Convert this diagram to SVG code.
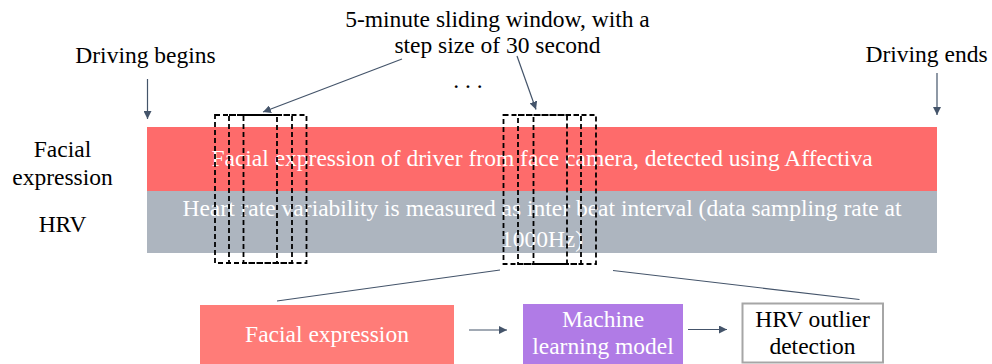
<svg xmlns="http://www.w3.org/2000/svg" width="992" height="364" viewBox="0 0 992 364">
  <defs>
    <marker id="arrow" viewBox="0 0 10 10" refX="10" refY="5" markerWidth="8" markerHeight="8" markerUnits="userSpaceOnUse" orient="auto">
      <path d="M0,0 L10,5 L0,10 Z" fill="#44546a"/>
    </marker>
  </defs>
  <style>
    .t { font-family: "Liberation Serif", "Times New Roman", serif; font-size: 23.5px; }
    .dark { fill: #000000; }
    .light { fill: #ffffff; }
    .mid { text-anchor: middle; }
    .conn { stroke: #44546a; stroke-width: 1.2; fill: none; }
    .win { fill: none; stroke: #000000; stroke-width: 1.8; stroke-dasharray: 5 3; }
  </style>

  <rect width="992" height="364" fill="#ffffff"/>

  <!-- Labels above the timeline -->
  <g id="label-begin">
    <text class="t dark mid" x="145.5" y="63">Driving begins</text>
  </g>
  <g id="label-end">
    <text class="t dark mid" x="926.5" y="62">Driving ends</text>
  </g>
  <g id="label-window">
    <text class="t dark mid" x="497.5" y="27">5-minute sliding window, with a</text>
    <text class="t dark mid" x="497.5" y="53">step size of 30 second</text>
  </g>
  <g id="label-ellipsis">
    <text class="t dark mid" x="468" y="88">. . .</text>
  </g>

  <!-- Row labels -->
  <g id="row-facial">
    <text class="t dark mid" x="62.5" y="157">Facial</text>
    <text class="t dark mid" x="62.5" y="185">expression</text>
  </g>
  <g id="row-hrv">
    <text class="t dark mid" x="62.5" y="232">HRV</text>
  </g>

  <!-- Data streams -->
  <g id="band-facial">
    <rect x="147" y="127" width="790" height="64" fill="#fe6b6b"/>
    <text class="t light mid" x="542" y="166">Facial expression of driver from face camera, detected using Affectiva</text>
  </g>
  <g id="band-hrv">
    <rect x="147" y="191" width="790" height="62" fill="#adb5bf"/>
    <text class="t light mid" x="542" y="216">Heart rate variability is measured as inter beat interval (data sampling rate at</text>
    <text class="t light mid" x="542" y="247">1000Hz)</text>
  </g>

  <!-- Sliding windows -->
  <g id="windows-early">
    <rect class="win" x="215" y="115" width="62" height="148"/>
    <rect class="win" x="229" y="115" width="63" height="148"/>
    <rect class="win" x="243.5" y="115" width="63" height="148"/>
  </g>
  <g id="windows-late">
    <rect class="win" x="503.5" y="115" width="63.5" height="149"/>
    <rect class="win" x="518" y="115" width="63" height="149"/>
    <rect class="win" x="533.5" y="115" width="62.5" height="149"/>
  </g>

  <!-- Processing pipeline -->
  <g id="box-facial">
    <rect x="200" y="305" width="254" height="59" fill="#ff7c78"/>
    <text class="t light mid" x="327" y="342">Facial expression</text>
  </g>
  <g id="box-ml">
    <rect x="523" y="304" width="160" height="60" fill="#b07be6"/>
    <text class="t light mid" x="603" y="327">Machine</text>
    <text class="t light mid" x="603" y="354">learning model</text>
  </g>
  <g id="box-hrv">
    <rect x="742.5" y="303.5" width="140.5" height="59" fill="#ffffff" stroke="#a6a6a6" stroke-width="2"/>
    <text class="t dark mid" x="812.5" y="327">HRV outlier</text>
    <text class="t dark mid" x="812.5" y="354">detection</text>
  </g>

  <!-- Connectors -->
  <g id="connectors">
    <line class="conn" x1="147.5" y1="79" x2="147.5" y2="119" marker-end="url(#arrow)"/>
    <line class="conn" x1="937" y1="73" x2="937" y2="115" marker-end="url(#arrow)"/>
    <line class="conn" x1="402" y1="59" x2="263" y2="112" marker-end="url(#arrow)"/>
    <line class="conn" x1="517" y1="56" x2="536" y2="109.5" marker-end="url(#arrow)"/>
    <line class="conn" x1="500" y1="270" x2="277" y2="301"/>
    <line class="conn" x1="613" y1="270.5" x2="859.5" y2="299.5"/>
    <line class="conn" x1="469" y1="330" x2="507" y2="330" marker-end="url(#arrow)"/>
    <line class="conn" x1="688" y1="329.5" x2="727" y2="329.5" marker-end="url(#arrow)"/>
  </g>
</svg>
